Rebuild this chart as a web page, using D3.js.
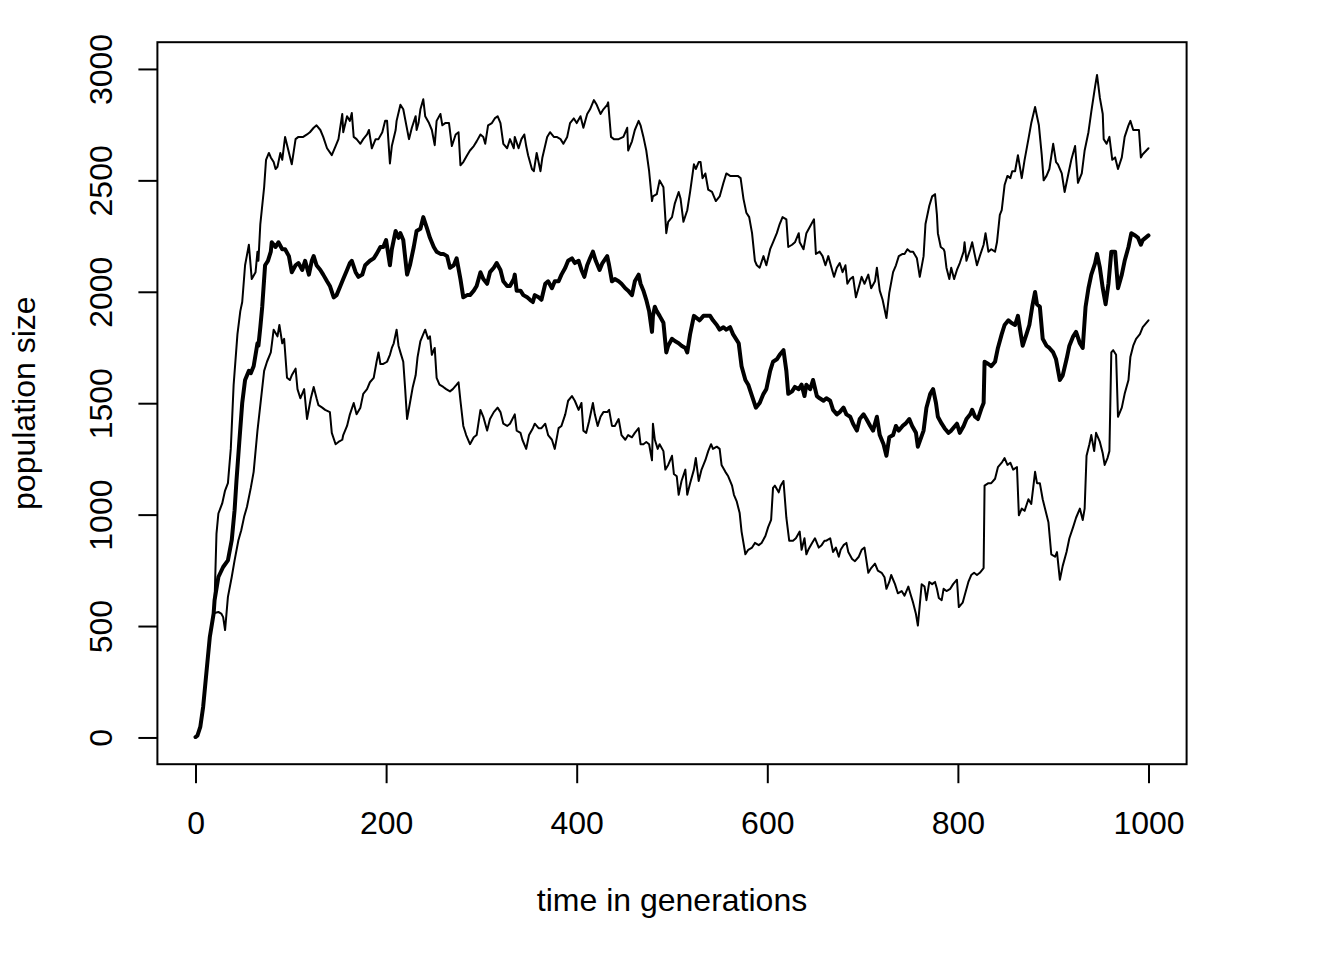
<!DOCTYPE html>
<html>
<head>
<meta charset="utf-8">
<script src="https://cdn.jsdelivr.net/npm/d3@7"></script>
<style>
  html, body { margin: 0; padding: 0; background: #fff; }
  svg { display: block; }
  text { font-family: "Liberation Sans", Arial, Helvetica, sans-serif; fill: #000; }
</style>
</head>
<body>
<svg id="chart" width="1344" height="960"></svg>
<script>
// ---- data ----
const xTicks = [0, 200, 400, 600, 800, 1000];
const yTicks = [0, 500, 1000, 1500, 2000, 2500, 3000];
const xLabel = "time in generations";
const yLabel = "population size";

// upper line: [generation, population]
const upperGen = [0,2,5,8,12,15,19,20,22,24,28,31,34,37,40,44,47,49,52,56,59,63,65,66,68,72,74,77,79,82,84,86,89,91,94,101,105,108,113,117,120,124,127,131,134,138,143,147,150,154,155,159,162,164,166,169,173,176,180,182,185,189,192,196,199,201,204,206,210,211,215,218,224,227,231,232,234,236,239,241,245,248,251,253,257,259,262,266,269,273,276,278,281,285,288,292,295,299,302,304,307,311,314,317,320,323,327,330,334,335,339,342,345,347,349,353,355,358,362,364,369,372,376,379,383,386,390,393,397,400,404,407,411,414,418,421,425,428,432,433,436,439,444,449,453,454,458,461,465,467,470,473,476,479,480,484,487,491,494,496,500,503,507,509,512,516,519,523,525,528,530,532,535,538,542,546,550,554,557,561,564,569,572,575,578,581,584,587,589,592,596,599,603,606,610,613,616,620,622,626,629,633,634,638,641,645,649,651,655,658,661,664,668,670,673,676,679,682,684,687,690,693,697,699,702,706,709,713,715,718,721,725,728,732,735,738,742,744,747,750,753,757,760,764,766,770,773,776,778,779,782,785,786,788,791,793,796,799,802,806,807,809,813,815,818,820,823,827,829,832,835,839,841,844,846,849,852,855,857,860,863,867,870,874,877,881,883,885,888,890,893,896,900,903,905,909,912,916,919,923,926,930,933,937,940,944,946,949,952,953,956,959,962,965,968,972,975,979,981,984,987,990,992,994,1000];
const upperVal = [2,8,47,137,317,451,556,616,915,1005,1050,1108,1141,1295,1583,1810,1913,1954,2119,2211,2057,2088,2180,2139,2304,2469,2592,2623,2603,2582,2551,2561,2623,2592,2695,2572,2685,2695,2695,2706,2716,2736,2747,2726,2695,2644,2613,2654,2685,2798,2716,2788,2767,2802,2695,2685,2664,2685,2706,2726,2644,2685,2685,2716,2767,2767,2576,2654,2726,2767,2839,2819,2685,2736,2788,2726,2757,2819,2864,2788,2757,2726,2658,2767,2798,2747,2757,2757,2654,2706,2716,2568,2582,2613,2634,2654,2675,2706,2695,2664,2747,2757,2778,2788,2757,2664,2644,2685,2644,2695,2644,2685,2706,2654,2613,2551,2541,2623,2541,2603,2695,2716,2695,2695,2685,2664,2695,2757,2778,2757,2788,2736,2798,2819,2860,2839,2798,2819,2839,2850,2695,2685,2685,2695,2736,2634,2675,2726,2767,2747,2695,2634,2541,2407,2428,2438,2500,2469,2263,2314,2335,2397,2448,2417,2314,2366,2448,2572,2551,2582,2582,2510,2531,2458,2448,2407,2428,2489,2531,2520,2520,2520,2510,2417,2355,2335,2263,2139,2119,2108,2160,2119,2191,2222,2263,2304,2335,2325,2201,2211,2222,2263,2222,2191,2263,2294,2325,2170,2180,2160,2119,2160,2098,2067,2108,2129,2088,2119,2036,2057,2067,1975,2036,2067,2036,2077,2016,2047,2108,2005,1964,1882,1995,2088,2119,2160,2170,2170,2191,2180,2180,2150,2067,2160,2304,2386,2428,2438,2345,2263,2201,2191,2180,2108,2057,2108,2057,2098,2129,2180,2222,2139,2191,2222,2160,2119,2160,2211,2263,2180,2191,2180,2222,2345,2366,2479,2520,2510,2541,2541,2613,2510,2592,2685,2757,2829,2788,2747,2613,2500,2520,2551,2664,2582,2572,2531,2448,2531,2592,2654,2489,2531,2634,2716,2808,2922,2973,2870,2798,2685,2664,2695,2592,2603,2551,2603,2695,2747,2767,2726,2726,2726,2603,2617,2644];

// middle (thick) line
const middleGen = [0,2,5,8,12,15,19,20,24,29,34,38,41,43,46,49,52,56,58,61,65,66,68,70,73,76,79,80,84,87,91,94,98,101,105,108,112,115,119,122,124,127,131,134,138,141,145,148,152,155,159,162,164,168,171,175,178,183,187,190,194,197,200,204,206,210,213,215,218,222,225,229,232,236,239,243,246,250,253,257,260,264,267,271,274,278,281,285,288,292,295,299,302,306,309,313,316,320,323,327,330,334,335,337,341,344,348,351,354,356,360,363,367,370,374,377,381,384,388,391,395,398,402,405,408,411,414,417,420,424,427,432,434,437,440,444,447,451,454,458,461,465,467,470,473,476,479,480,482,484,487,491,494,496,500,503,507,510,514,516,519,523,526,529,533,536,540,543,547,550,554,557,561,564,570,573,577,580,584,588,592,596,599,603,606,610,613,617,620,622,626,629,633,636,639,641,645,648,652,655,659,662,666,669,673,676,680,683,687,690,694,697,701,704,708,711,715,718,722,725,728,732,735,738,742,745,749,752,756,758,764,767,771,774,777,779,783,786,790,793,797,799,802,806,809,813,815,818,821,825,827,828,832,835,839,842,846,849,853,856,860,863,866,868,872,875,878,881,883,886,889,893,896,900,903,907,910,914,917,921,924,928,931,934,937,940,944,946,949,952,955,958,961,965,968,972,975,979,982,986,989,992,994,1000];
const middleVal = [2,8,47,137,317,451,556,616,720,765,795,885,1020,1154,1330,1501,1604,1645,1635,1666,1769,1758,1841,1933,2119,2139,2180,2222,2201,2222,2191,2191,2160,2088,2119,2129,2098,2139,2077,2139,2160,2119,2098,2077,2047,2026,1975,1985,2026,2057,2098,2129,2139,2088,2067,2077,2119,2139,2150,2170,2201,2201,2232,2119,2191,2273,2242,2263,2232,2077,2119,2201,2273,2283,2335,2283,2242,2201,2180,2170,2170,2160,2108,2119,2150,2057,1975,1985,1985,2005,2026,2088,2057,2036,2088,2108,2129,2098,2047,2026,2026,2057,2077,2005,2005,1985,1975,1964,1954,1985,1975,1964,2036,2047,2016,2047,2047,2077,2108,2139,2150,2129,2139,2098,2067,2119,2150,2180,2139,2098,2129,2160,2119,2047,2057,2047,2036,2016,2005,1985,2047,2077,2036,2005,1964,1913,1820,1892,1933,1913,1892,1861,1728,1758,1789,1779,1769,1758,1748,1728,1810,1892,1882,1872,1892,1892,1892,1872,1851,1830,1841,1830,1841,1810,1769,1666,1604,1583,1532,1480,1501,1542,1563,1645,1686,1697,1717,1738,1645,1542,1553,1573,1563,1583,1532,1583,1563,1604,1532,1522,1511,1522,1511,1470,1450,1460,1480,1450,1439,1408,1377,1429,1450,1429,1398,1377,1439,1357,1316,1264,1347,1357,1398,1377,1398,1408,1429,1398,1367,1305,1377,1480,1542,1563,1501,1439,1408,1388,1367,1377,1398,1408,1367,1398,1429,1450,1470,1439,1429,1480,1501,1686,1676,1666,1686,1748,1810,1851,1872,1861,1851,1892,1810,1758,1810,1851,1933,1999,1944,1933,1789,1758,1748,1728,1697,1604,1625,1697,1758,1800,1820,1769,1748,1933,2016,2077,2129,2170,2108,2016,1944,2036,2180,2180,2016,2077,2139,2201,2263,2253,2242,2211,2232,2253];

// lower line
const lowerGen = [0,2,5,8,12,15,19,21,24,27,29,31,34,38,41,45,48,51,54,58,61,65,68,72,75,79,82,86,88,91,93,96,99,101,105,107,110,114,117,121,124,127,129,133,136,141,143,147,150,154,155,159,162,166,169,173,176,180,183,187,190,192,194,197,201,204,206,208,211,213,215,218,220,222,225,228,231,233,236,239,241,244,246,248,251,253,256,260,263,267,270,274,276,278,281,284,288,292,295,299,302,306,309,313,317,320,323,327,330,335,337,341,343,347,350,354,356,360,363,367,370,374,377,381,384,388,391,395,398,402,405,407,410,413,417,419,422,425,428,432,434,437,440,444,447,451,454,458,461,465,467,470,473,476,479,480,482,485,487,491,493,496,500,502,505,507,510,514,516,519,523,525,528,531,535,538,541,543,547,550,552,556,559,563,565,568,571,573,577,580,584,587,591,594,598,601,604,606,608,612,614,617,620,623,627,630,634,636,639,641,643,647,650,654,657,660,662,666,669,672,675,677,680,683,685,689,692,696,699,702,706,709,713,716,720,723,725,728,730,734,737,741,744,748,750,753,756,758,762,765,767,770,773,776,778,780,783,785,788,792,795,799,801,805,807,811,814,817,820,823,827,828,832,835,839,842,846,849,852,855,858,862,864,867,870,874,877,881,883,886,889,892,895,898,902,904,907,910,914,917,921,924,928,931,933,935,938,940,943,945,949,952,954,957,959,961,963,966,968,972,975,979,981,984,987,991,994,1000];
const lowerVal = [2,8,47,137,317,451,556,560,563,556,540,482,631,720,795,885,930,990,1035,1120,1192,1377,1491,1645,1686,1728,1830,1800,1851,1769,1789,1614,1604,1625,1655,1563,1522,1563,1429,1522,1573,1522,1491,1480,1470,1460,1367,1316,1326,1336,1357,1398,1450,1501,1450,1480,1542,1563,1594,1614,1686,1728,1676,1676,1686,1717,1748,1769,1830,1758,1728,1686,1563,1429,1501,1573,1625,1707,1779,1810,1830,1789,1800,1717,1748,1614,1583,1573,1563,1553,1563,1583,1594,1511,1398,1357,1316,1347,1357,1470,1439,1377,1429,1460,1480,1460,1408,1398,1408,1450,1377,1367,1336,1295,1357,1388,1408,1388,1388,1408,1357,1336,1295,1388,1398,1450,1511,1532,1511,1470,1501,1377,1367,1419,1501,1450,1398,1439,1460,1460,1470,1398,1398,1429,1357,1336,1357,1347,1367,1388,1316,1316,1326,1316,1244,1408,1336,1295,1316,1285,1202,1223,1264,1182,1172,1089,1151,1202,1089,1141,1202,1254,1151,1202,1244,1285,1316,1295,1305,1295,1223,1192,1172,1130,1089,1058,1007,924,822,842,852,873,863,873,904,945,976,1120,1130,1100,1130,1151,986,883,883,894,924,842,894,822,842,873,894,852,863,883,883,894,832,852,811,842,863,873,832,801,791,811,842,852,739,760,780,749,739,719,667,698,729,688,647,657,636,677,647,605,554,502,688,677,616,698,688,698,667,626,616,667,657,667,688,708,585,605,636,698,729,739,729,739,760,1130,1141,1141,1161,1213,1233,1254,1223,1233,1202,1213,997,1027,1017,1069,1048,1192,1141,1141,1069,1017,966,822,811,832,708,770,832,894,945,986,1027,976,1027,1264,1316,1357,1285,1367,1326,1275,1223,1254,1285,1728,1738,1717,1439,1480,1542,1604,1707,1758,1789,1810,1841,1872];

// ---- layout ----
const W = 1344, H = 960;
const plot = { left: 157.4, right: 1186.6, top: 42.2, bottom: 764.2 };
const FONT = 32;

const svg = d3.select("#chart");
svg.append("rect").attr("width", W).attr("height", H).attr("fill", "#fff");

// R-style 4% axis padding
const x = d3.scaleLinear().domain([-40, 1040]).range([plot.left, plot.right]);
const y = d3.scaleLinear().domain([-120, 3120]).range([plot.bottom, plot.top]);

const line = d3.line().x(d => x(d[0])).y(d => y(d[1]));
const zip = (g, v) => g.map((gg, i) => [gg, v[i]]);

const series = [
  { gen: upperGen, val: upperVal, w: 2 },
  { gen: lowerGen, val: lowerVal, w: 2 },
  { gen: middleGen, val: middleVal, w: 4 }
];
series.forEach(s => {
  svg.append("path")
    .datum(zip(s.gen, s.val))
    .attr("d", line)
    .attr("fill", "none")
    .attr("stroke", "#000")
    .attr("stroke-width", s.w)
    .attr("stroke-linejoin", "round")
    .attr("stroke-linecap", "round");
});

// box
svg.append("rect")
  .attr("x", plot.left).attr("y", plot.top)
  .attr("width", plot.right - plot.left).attr("height", plot.bottom - plot.top)
  .attr("fill", "none").attr("stroke", "#000").attr("stroke-width", 2);

// x axis
const gx = svg.append("g")
  .attr("transform", `translate(0,${plot.bottom})`)
  .call(d3.axisBottom(x).tickValues(xTicks).tickSize(19).tickSizeOuter(0).tickFormat(d3.format("d")));
gx.select(".domain").remove();
gx.selectAll(".tick line").attr("stroke", "#000").attr("stroke-width", 2);
gx.selectAll(".tick text")
  .attr("y", 70).attr("dy", null)
  .attr("font-size", FONT)
  .attr("font-family", '"Liberation Sans", Arial, sans-serif')
  .attr("fill", "#000");

// y axis
const gy = svg.append("g")
  .attr("transform", `translate(${plot.left},0)`)
  .call(d3.axisLeft(y).tickValues(yTicks).tickSize(19).tickSizeOuter(0).tickFormat(d3.format("d")));
gy.select(".domain").remove();
gy.selectAll(".tick line").attr("stroke", "#000").attr("stroke-width", 2);
gy.selectAll(".tick text")
  .attr("x", 0).attr("y", 0).attr("dy", null).attr("dx", null)
  .attr("text-anchor", "middle")
  .attr("transform", "translate(-45,0) rotate(-90)")
  .attr("font-size", FONT)
  .attr("font-family", '"Liberation Sans", Arial, sans-serif')
  .attr("fill", "#000");

// axis titles
svg.append("text")
  .attr("x", (plot.left + plot.right) / 2).attr("y", 911)
  .attr("text-anchor", "middle").attr("font-size", FONT)
  .text(xLabel);
svg.append("text")
  .attr("transform", `translate(35,${(plot.top + plot.bottom) / 2}) rotate(-90)`)
  .attr("text-anchor", "middle").attr("font-size", FONT)
  .text(yLabel);
</script>
</body>
</html>
